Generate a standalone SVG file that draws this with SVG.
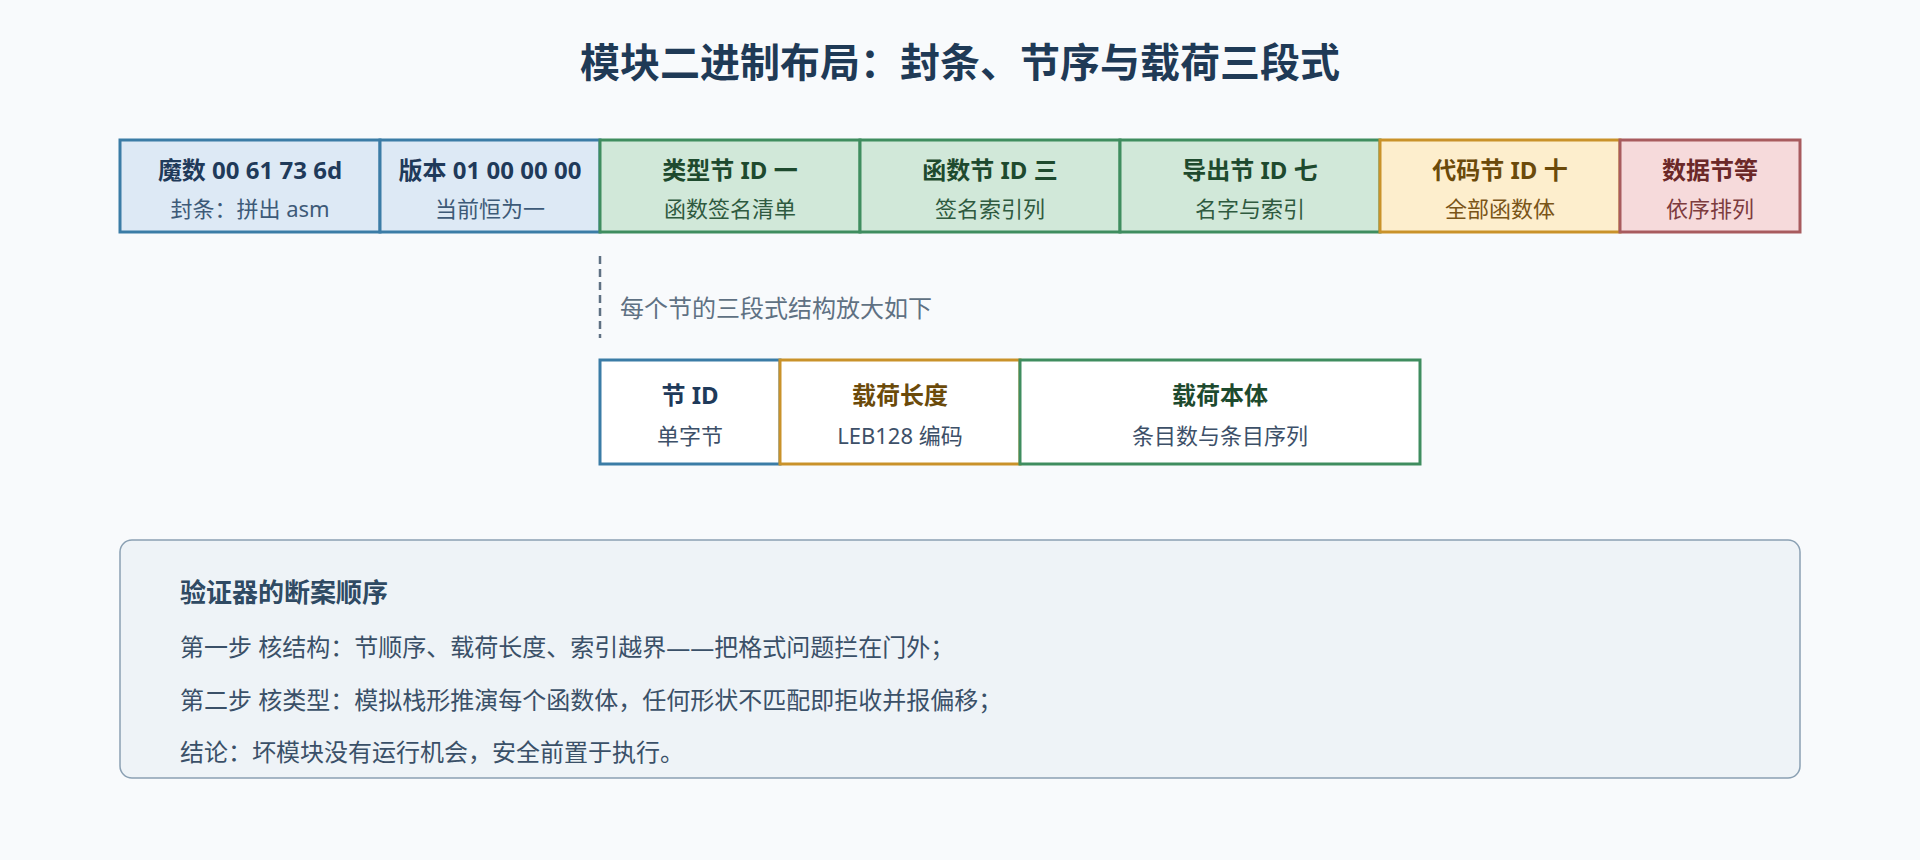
<svg xmlns="http://www.w3.org/2000/svg" width="1920" height="860" viewBox="0 0 1920 860">
  <style>
    text { font-family: "Noto Sans", "Noto Sans CJK SC", sans-serif; text-anchor: middle; }
    .title { font-size: 40px; font-weight: 700; fill: #1f3a56; }
    .lbl { font-size: 24px; font-weight: 700; }
    .sub { font-size: 22px; }
    .blue rect { fill: #dde9f5; stroke: #3b7ca6; stroke-width: 3; }
    .green rect { fill: #d1e8d9; stroke: #3f8d5f; stroke-width: 3; }
    .gold rect { fill: #fdeecd; stroke: #c9922a; stroke-width: 3; }
    .red rect { fill: #f6dadb; stroke: #a85b5e; stroke-width: 3; }
    .blue .lbl { fill: #1f3a5a; } .blue .sub { fill: #3d5a78; }
    .green .lbl { fill: #1e4a2e; } .green .sub { fill: #2f5a3f; }
    .gold .lbl { fill: #6b4a0a; } .gold .sub { fill: #7a5518; }
    .red .lbl { fill: #6b2828; } .red .sub { fill: #7d3c3e; }
    .note { font-size: 24px; fill: #5f7183; text-anchor: start; }
    .ph { font-size: 26px; font-weight: 700; fill: #2f4a63; text-anchor: start; }
    .pb { font-size: 24px; fill: #3a5068; text-anchor: start; }
  </style>
  <rect x="0" y="0" width="1920" height="860" fill="#f8fafc"/>
  <text class="title" x="960" y="77">模块二进制布局：封条、节序与载荷三段式</text>

  <g id="magic" class="blue">
    <rect x="120" y="140" width="260" height="92"/>
    <text class="lbl" x="250" y="179">魔数 00 61 73 6d</text>
    <text class="sub" x="250" y="217">封条：拼出 asm</text>
  </g>
  <g id="version" class="blue">
    <rect x="380" y="140" width="220" height="92"/>
    <text class="lbl" x="490" y="179">版本 01 00 00 00</text>
    <text class="sub" x="490" y="217">当前恒为一</text>
  </g>
  <g id="type-sec" class="green">
    <rect x="600" y="140" width="260" height="92"/>
    <text class="lbl" x="730" y="179">类型节 ID 一</text>
    <text class="sub" x="730" y="217">函数签名清单</text>
  </g>
  <g id="func-sec" class="green">
    <rect x="860" y="140" width="260" height="92"/>
    <text class="lbl" x="990" y="179">函数节 ID 三</text>
    <text class="sub" x="990" y="217">签名索引列</text>
  </g>
  <g id="export-sec" class="green">
    <rect x="1120" y="140" width="260" height="92"/>
    <text class="lbl" x="1250" y="179">导出节 ID 七</text>
    <text class="sub" x="1250" y="217">名字与索引</text>
  </g>
  <g id="code-sec" class="gold">
    <rect x="1380" y="140" width="240" height="92"/>
    <text class="lbl" x="1500" y="179">代码节 ID 十</text>
    <text class="sub" x="1500" y="217">全部函数体</text>
  </g>
  <g id="data-sec" class="red">
    <rect x="1620" y="140" width="180" height="92"/>
    <text class="lbl" x="1710" y="179">数据节等</text>
    <text class="sub" x="1710" y="217">依序排列</text>
  </g>

  <g id="connectors">
    <line x1="600" y1="256" x2="600" y2="338" stroke="#5f7183" stroke-width="2.5" stroke-dasharray="8 5"/>
  </g>
  <text class="note" x="620" y="317">每个节的三段式结构放大如下</text>

  <g id="sec-id" class="blue">
    <rect x="600" y="360" width="180" height="104" style="fill:#ffffff"/>
    <text class="lbl" x="690" y="404">节 ID</text>
    <text class="sub" x="690" y="444" style="fill:#3d5068">单字节</text>
  </g>
  <g id="payload-len" class="gold">
    <rect x="780" y="360" width="240" height="104" style="fill:#ffffff"/>
    <text class="lbl" x="900" y="404">载荷长度</text>
    <text class="sub" x="900" y="444" style="fill:#3d5068">LEB128 编码</text>
  </g>
  <g id="payload-body" class="green">
    <rect x="1020" y="360" width="400" height="104" style="fill:#ffffff"/>
    <text class="lbl" x="1220" y="404">载荷本体</text>
    <text class="sub" x="1220" y="444" style="fill:#3d5068">条目数与条目序列</text>
  </g>

  <g id="verifier-panel">
    <rect x="120" y="540" width="1680" height="238" rx="12" ry="12" fill="#eef3f7" stroke="#8aa0b3" stroke-width="1.5"/>
    <text class="ph" x="180" y="602">验证器的断案顺序</text>
    <text class="pb" x="180" y="656">第一步 核结构：节顺序、载荷长度、索引越界——把格式问题拦在门外；</text>
    <text class="pb" x="180" y="709">第二步 核类型：模拟栈形推演每个函数体，任何形状不匹配即拒收并报偏移；</text>
    <text class="pb" x="180" y="761">结论：坏模块没有运行机会，安全前置于执行。</text>
  </g>
</svg>
